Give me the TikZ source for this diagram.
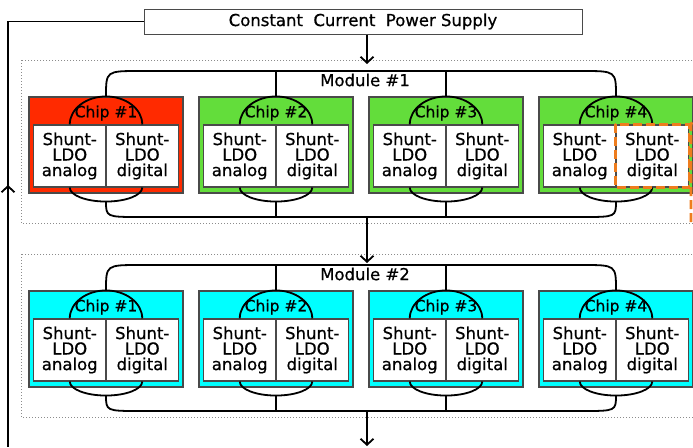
\documentclass[tikz,border=0pt]{standalone}
\usepackage{fontspec}
\setmainfont[FakeBold=0.7]{DejaVu Sans}
\usetikzlibrary{arrows.meta}
\definecolor{chipred}{HTML}{FF2A00}
\definecolor{chipgreen}{HTML}{63DD3B}
\definecolor{chipcyan}{HTML}{00FFFF}
\definecolor{edgegray}{HTML}{4A4A4A}
\definecolor{ldoorange}{HTML}{EE7D1E}
\tikzset{
  chipbox/.style={draw=edgegray,line width=1.1pt,minimum width=154pt,minimum height=96pt,inner sep=0pt},
  ldobox/.style={draw=edgegray,fill=white,line width=1.1pt,minimum width=72.5pt,minimum height=62pt,inner sep=0pt,align=center,font=\fontsize{16.5}{15.5}\selectfont},
  bus/.style={line width=1.8pt,black},
  flow/.style={line width=1.8pt,black,-{Straight Barb[length=6pt,width=13pt]}},
  frame/.style={gray!90,line width=1pt,dotted},
  lbl/.style={font=\fontsize{16.5}{16.5}\selectfont,inner sep=0pt}
}
\begin{document}
\begin{tikzpicture}[x=1pt,y=-1pt]
\useasboundingbox (0,0) rectangle (693,447);
\node[draw=edgegray,line width=1pt,minimum width=438pt,minimum height=25pt,inner sep=0pt,font=\fontsize{16.5}{16.5}\selectfont] (supply) at (363,21.5) {Constant~~Current~~Power Supply};
\foreach \m/\dy/\first/\rest in {1/0/chipred/chipgreen,2/194/chipcyan/chipcyan} {
  \draw[frame] (21,{60+\dy}) rectangle (705,{223+\dy});
  \foreach \i in {1,...,4} {
    \ifnum\i=1 \def\col{\first}\else\def\col{\rest}\fi
    \node[chipbox,fill=\col] (m\m-c\i) at ({106+170*(\i-1)},{145+\dy}) {};
    \node[lbl,font=\fontsize{15.5}{15.5}\selectfont] (m\m-c\i-lbl) at ({106+170*(\i-1)},{113+\dy}) {Chip \#\i};
    \node[ldobox] (m\m-c\i-a) at ({106+170*(\i-1)-36.25},{156+\dy}) {Shunt-\\LDO\\analog};
    \node[ldobox] (m\m-c\i-d) at ({106+170*(\i-1)+36.25},{156+\dy}) {Shunt-\\LDO\\digital};
    \draw[bus] (m\m-c\i-a.north) arc[start angle=180,end angle=0,x radius=36.25pt,y radius=28pt];
    \draw[bus] (m\m-c\i-a.south) arc[start angle=180,end angle=360,x radius=36.25pt,y radius=14pt];
  }
  \node[lbl] (m\m-lbl) at (365,{80+\dy}) {Module \#\m};
  \draw[bus] (m\m-c1.north) .. controls (106,{71+\dy}) .. (140,{71+\dy}) -- (582,{71+\dy}) .. controls (616,{71+\dy}) .. (m\m-c4.north);
  \draw[bus] (106,{201+\dy}) .. controls (106,{217+\dy}) .. (140,{217+\dy}) -- (582,{217+\dy}) .. controls (616,{217+\dy}) .. (616,{201+\dy});
  \foreach \i in {2,3} {
    \draw[bus] (m\m-c\i.north) -- ({106+170*(\i-1)},{71+\dy});
    \draw[bus] ({106+170*(\i-1)},{201+\dy}) -- ({106+170*(\i-1)},{217+\dy});
  }
}
\coordinate (m1-in) at (367,64);
\coordinate (m1-out) at (367,217);
\coordinate (m2-in) at (367,263);
\coordinate (m2-out) at (367,411);
\coordinate (next) at (367,446);
\coordinate (back) at (8,447);
\draw[flow] (supply.south -| m1-in) -- (m1-in);
\draw[flow] (m1-out) -- (m2-in);
\draw[flow] (m2-out) -- (next);
\draw[bus] (supply.west) -| (back);
\draw[flow] (8,205) -- (8,185);
\draw[ldoorange,line width=2.6pt,dash pattern=on 9pt off 4pt] (m1-c4-d.north west) rectangle (m1-c4-d.south east);
\draw[ldoorange,line width=2.6pt,dash pattern=on 9pt off 4pt] (691,222) -- (691,126) to[out=90,in=180] (700,117);
\end{tikzpicture}
\end{document}
